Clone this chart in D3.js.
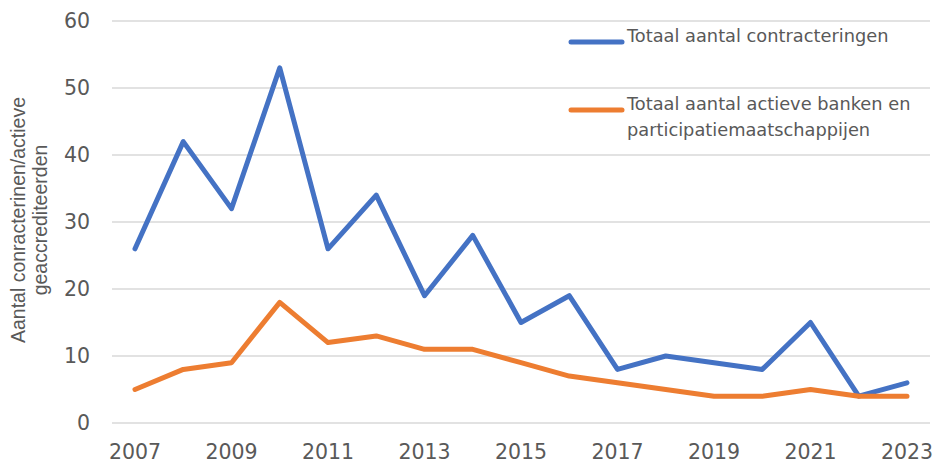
<!DOCTYPE html>
<html>
<head>
  <script src="https://cdn.jsdelivr.net/npm/d3@7"></script>
  <style>
    body { margin: 0; background: #fff; }
    text { font-family: "DejaVu Sans", sans-serif; fill: #595959; }
    .ytitle { font-family: "Liberation Sans", Arial, sans-serif; }
  </style>
</head>
<body>
  <svg width="935" height="463"></svg>
  <script>
    var years = [2007, 2008, 2009, 2010, 2011, 2012, 2013, 2014, 2015, 2016, 2017, 2018, 2019, 2020, 2021, 2022, 2023];
    var contracteringen = [26, 42, 32, 53, 26, 34, 19, 28, 15, 19, 8, 10, 9, 8, 15, 4, 6];
    var actieveBanken = [5, 8, 9, 18, 12, 13, 11, 11, 9, 7, 6, 5, 4, 4, 5, 4, 4];
    var yTicks = [0, 10, 20, 30, 40, 50, 60];
    var xTicks = [2007, 2009, 2011, 2013, 2015, 2017, 2019, 2021, 2023];

    var series = [
      { name: ["Totaal aantal contracteringen"], values: contracteringen, color: "#4472c4" },
      { name: ["Totaal aantal actieve banken en", "participatiemaatschappijen"], values: actieveBanken, color: "#ed7d31" }
    ];

    var svg = d3.select("svg");

    var x = d3.scaleLinear().domain([2007, 2023]).range([135, 907]);
    var y = d3.scaleLinear().domain([0, 60]).range([423, 21]);

    // gridlines
    svg.append("g")
      .selectAll("line")
      .data(yTicks)
      .join("line")
      .attr("x1", 112).attr("x2", 930)
      .attr("y1", d => y(d)).attr("y2", d => y(d))
      .attr("stroke", "#d9d9d9")
      .attr("stroke-width", 1.5);

    // y tick labels
    svg.append("g")
      .selectAll("text")
      .data(yTicks)
      .join("text")
      .attr("x", 90)
      .attr("y", d => y(d))
      .attr("dy", "0.35em")
      .attr("text-anchor", "end")
      .attr("font-size", 20.5)
      .text(d => d);

    // x tick labels
    svg.append("g")
      .selectAll("text")
      .data(xTicks)
      .join("text")
      .attr("x", d => x(d))
      .attr("y", 459)
      .attr("text-anchor", "middle")
      .attr("font-size", 20.5)
      .text(d => d);

    // y axis title
    var yt = svg.append("text")
      .attr("class", "ytitle")
      .attr("transform", "translate(25,220) rotate(-90)")
      .attr("text-anchor", "middle")
      .attr("font-size", 19.5);
    yt.append("tspan").attr("x", 0).attr("dy", 0).text("Aantal conracterinen/actieve");
    yt.append("tspan").attr("x", 0).attr("dy", 22).text("geaccrediteerden");

    var line = d3.line()
      .x((d, i) => x(years[i]))
      .y(d => y(d));

    svg.append("g")
      .selectAll("path")
      .data(series)
      .join("path")
      .attr("d", d => line(d.values))
      .attr("fill", "none")
      .attr("stroke", d => d.color)
      .attr("stroke-width", 5)
      .attr("stroke-linejoin", "round")
      .attr("stroke-linecap", "round");

    // legend
    var legendY = [42, 110];
    var lg = svg.append("g")
      .selectAll("g")
      .data(series)
      .join("g")
      .attr("transform", (d, i) => `translate(0,${legendY[i]})`);
    lg.append("line")
      .attr("x1", 571).attr("x2", 622)
      .attr("stroke", d => d.color)
      .attr("stroke-width", 5)
      .attr("stroke-linecap", "round");
    lg.append("text")
      .attr("x", 627)
      .attr("font-size", 17.8)
      .attr("dy", "0.35em")
      .selectAll("tspan")
      .data(d => d.name)
      .join("tspan")
      .attr("x", 627)
      .attr("dy", (d, i) => i ? 26 : 0)
      .text(d => d);
  </script>
</body>
</html>
